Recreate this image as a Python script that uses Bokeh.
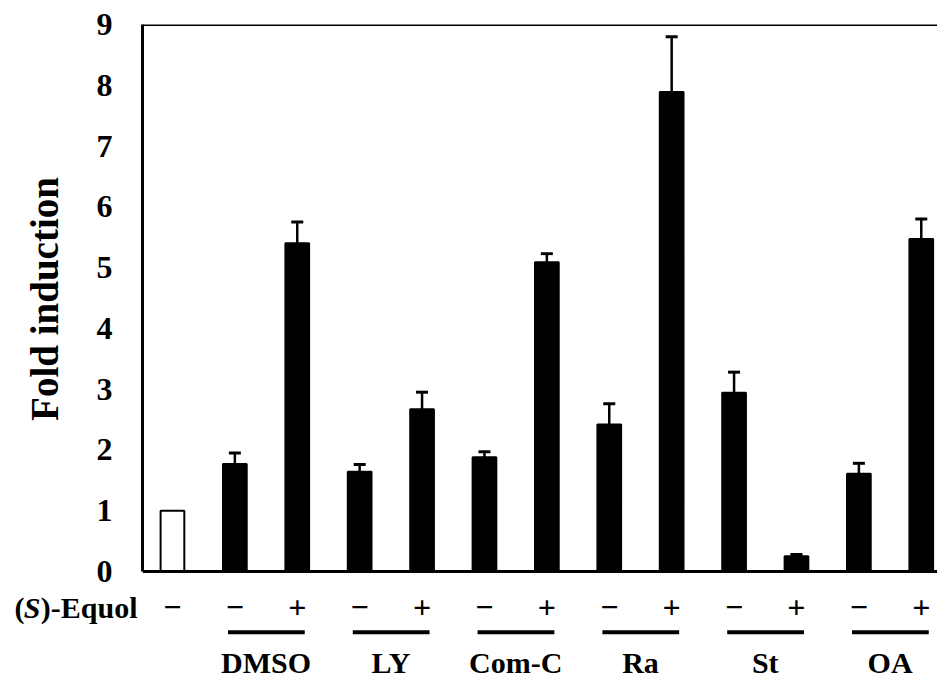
from bokeh.plotting import figure
from bokeh.models import (ColumnDataSource, Whisker, TeeHead, Span, Range1d, FixedTicker)
from bokeh.core.properties import value
from bokeh.embed import file_html
from bokeh.resources import INLINE

# ---- data ----
treatments = ["DMSO", "LY", "Com-C", "Ra", "St", "OA"]
equol_signs = ["−", "−", "+", "−", "+", "−", "+", "−", "+", "−", "+", "−", "+"]
fold_values = [1.00, 1.77, 5.40, 1.64, 2.67, 1.88, 5.09, 2.42, 7.89, 2.94, 0.25, 1.61, 5.47]
fold_errors = [0.00, 0.18, 0.35, 0.12, 0.28, 0.09, 0.14, 0.34, 0.91, 0.34, 0.03, 0.17, 0.33]
y_ticks = [0, 1, 2, 3, 4, 5, 6, 7, 8, 9]

FONT = "Liberation Serif"
n = len(fold_values)
xs = list(range(n))
fill = ["white"] + ["black"] * (n - 1)

# layout geometry (pixels)
W = 937
LEFT = 142
TOP = 24
PX_PER_X = (W - LEFT) / 12.74
X0 = -0.48
X1 = X0 + (W - LEFT) / PX_PER_X
Y_LO = -0.033
FRAME_BOTTOM = 573
MAIN_H = 589
BOT_H = 92
PX_PER_Y = (FRAME_BOTTOM - TOP) / (9.0 - Y_LO)

bars = ColumnDataSource(dict(x=xs, top=fold_values, fill=fill))
err_src = ColumnDataSource(dict(
    x=xs[1:],
    lower=fold_values[1:],
    upper=[v + e for v, e in zip(fold_values[1:], fold_errors[1:])],
))

p = figure(width=W, height=MAIN_H,
           x_range=Range1d(X0, X1), y_range=Range1d(Y_LO, 9.0),
           min_border_left=LEFT, min_border_right=0, min_border_top=TOP,
           min_border_bottom=MAIN_H - FRAME_BOTTOM,
           output_backend="svg", toolbar_location=None)

p.vbar(x="x", top="top", width=0.38, source=bars, fill_color="fill",
       line_color="black", line_width=2)

p.add_layout(Whisker(base="x", lower="lower", upper="upper", source=err_src,
                     dimension="height", line_width=2.5, line_color="black",
                     upper_head=TeeHead(size=12, line_width=3, line_color="black"),
                     lower_head=None))

p.xgrid.visible = False
p.ygrid.visible = False
p.outline_line_color = None
p.xaxis.visible = False
p.yaxis.ticker = FixedTicker(ticks=y_ticks)
p.yaxis.bounds = (0, 9)
p.yaxis.major_tick_line_color = None
p.yaxis.minor_tick_line_color = None
p.yaxis.axis_line_width = 3
p.yaxis.major_label_standoff = 24
p.yaxis.major_label_text_font = FONT
p.yaxis.major_label_text_font_style = "bold"
p.yaxis.major_label_text_font_size = "32px"
p.yaxis.major_label_text_color = "black"
p.yaxis.axis_label = "Fold induction"
p.yaxis.axis_label_text_font = FONT
p.yaxis.axis_label_text_font_style = "bold"
p.yaxis.axis_label_text_font_size = "39px"
p.yaxis.axis_label_text_color = "black"
p.yaxis.axis_label_standoff = 28

p.add_layout(Span(location=9, dimension="width", line_color="black", line_width=3))
p.add_layout(Span(location=0, dimension="width", line_color="black", line_width=3))

# ---- lower panel with the (S)-Equol row and treatment names ----
B_TOP = Y_LO - (MAIN_H - FRAME_BOTTOM) / PX_PER_Y
b = figure(width=W, height=BOT_H,
           x_range=Range1d(X0 - LEFT / PX_PER_X, X1),
           y_range=Range1d(B_TOP - BOT_H / PX_PER_Y, B_TOP),
           min_border=0, output_backend="svg", toolbar_location=None)
b.axis.visible = False
b.grid.visible = False
b.outline_line_color = None

sign_src = ColumnDataSource(dict(x=xs, y=[-0.6] * n, t=equol_signs))
b.text(x="x", y="y", text="t", source=sign_src, text_align="center",
       text_baseline="middle", text_font=value(FONT), text_font_style="bold",
       text_font_size="32px", text_color="black")

title_src = ColumnDataSource(dict(x=[-0.56], y=[-0.6]))
kw = dict(source=title_src, text_baseline="middle", text_font=value(FONT),
          text_font_size="30px", text_color="black", text_align="right")
b.text(x="x", y="y", text=value(")-Equol"), text_font_style="bold", **kw)
b.text(x="x", y="y", text=value("S"), text_font_style="bold italic", x_offset=-97, **kw)
b.text(x="x", y="y", text=value("("), text_font_style="bold", x_offset=-113, **kw)

gx0 = [2 * i + 1 for i in range(len(treatments))]
gx1 = [2 * i + 2 for i in range(len(treatments))]
line_src = ColumnDataSource(dict(
    x0=[a - 0.11 for a in gx0], x1=[c + 0.12 for c in gx1],
    y=[-1.0] * len(treatments)))
b.segment(x0="x0", y0="y", x1="x1", y1="y", source=line_src,
          line_width=4, line_color="black")

name_src = ColumnDataSource(dict(
    x=[(a + c) / 2 for a, c in zip(gx0, gx1)],
    y=[-1.5] * len(treatments), t=treatments))
b.text(x="x", y="y", text="t", source=name_src, text_align="center",
       text_baseline="middle", text_font=value(FONT), text_font_style="bold",
       text_font_size="30px", text_color="black")

open("out.html", "w").write(file_html([p, b], INLINE))
